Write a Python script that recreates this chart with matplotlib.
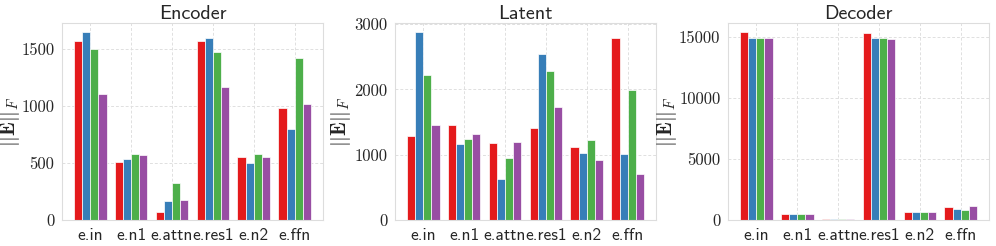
import numpy as np
import matplotlib
matplotlib.use("Agg")
import matplotlib.pyplot as plt
from matplotlib.ticker import MaxNLocator
import seaborn as sns

# Data
layers = ["e.in", "e.n1", "e.attn", "e.res1", "e.n2", "e.ffn"]
panels = ["Encoder", "Latent", "Decoder"]

encoder_red = [1570, 510, 70, 1570, 554, 981]
encoder_blue = [1641, 536, 167, 1594, 498, 800]
encoder_green = [1500, 580, 325, 1468, 577, 1421]
encoder_purple = [1105, 565, 176, 1166, 548, 1011]

latent_red = [1292, 1451, 1179, 1405, 1118, 2795]
latent_blue = [2872, 1164, 631, 2549, 1021, 1005]
latent_green = [2215, 1246, 944, 2282, 1221, 1995]
latent_purple = [1456, 1318, 1195, 1738, 918, 697]

decoder_red = [15330, 500, 110, 15275, 610, 1040]
decoder_blue = [14865, 520, 100, 14865, 630, 930]
decoder_green = [14865, 520, 90, 14865, 610, 794]
decoder_purple = [14865, 520, 90, 14837, 610, 1150]

series = {
    "Encoder": [encoder_red, encoder_blue, encoder_green, encoder_purple],
    "Latent": [latent_red, latent_blue, latent_green, latent_purple],
    "Decoder": [decoder_red, decoder_blue, decoder_green, decoder_purple],
}

sns.set_style("whitegrid", {"grid.linestyle": "--"})
plt.rcParams["mathtext.fontset"] = "cm"
colors = sns.color_palette("Set1", 4)

fig, axes = plt.subplots(1, 3, figsize=(9.96, 2.46), dpi=100)
fig.subplots_adjust(left=0.0622, right=0.993, bottom=0.106, top=0.906,
                    wspace=0.276)

x = np.arange(len(layers))
width = 0.2
label_x = {"Encoder": -0.152, "Latent": -0.162, "Decoder": -0.186}
for ax, name in zip(axes, panels):
    for k, vals in enumerate(series[name]):
        ax.bar(x + (k - 1.5) * width, vals, width, color=colors[k],
               edgecolor="white", linewidth=0.5)
    ax.set_ylim(0, max(max(v) for v in series[name]) * 1.05)
    ax.yaxis.set_major_locator(MaxNLocator(nbins=4, steps=[1, 2, 5, 10]))
    ax.set_title(name, fontsize=14.5, family="cmss10", pad=3)
    ax.set_xticks(x)
    ax.set_xticklabels(layers, fontsize=12.5, family="cmss10")
    ax.set_ylabel(r"$||\mathbf{E}||_F$", fontsize=15)
    ax.yaxis.set_label_coords(label_x[name], 0.5)
    for lab in ax.get_yticklabels():
        lab.set_family("cmr10")
        lab.set_fontsize(12)
    ax.tick_params(axis="both", pad=2)
    ax.grid(True, linestyle=(0, (3, 2)), linewidth=0.7, color="#e0e0e0")
    for s in ax.spines.values():
        s.set_color("#dddddd")

fig.savefig("out.png", dpi=100)
